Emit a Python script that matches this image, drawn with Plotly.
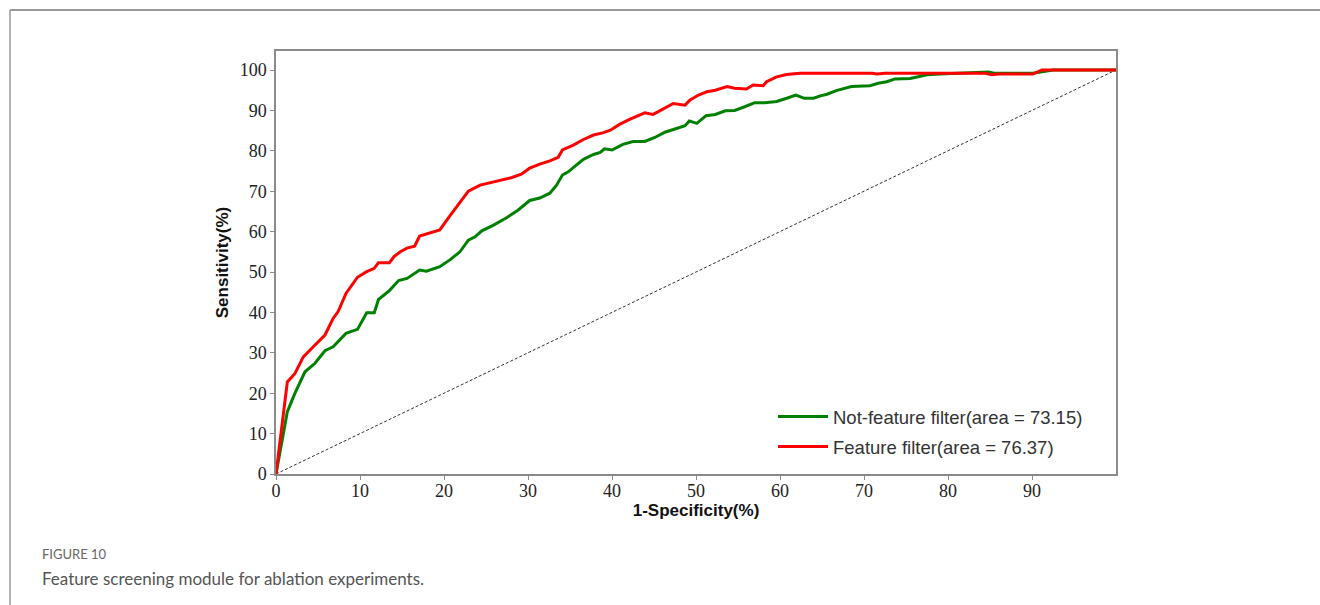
import plotly.graph_objects as go

# ---- data ----
nf_x = [0, 1.35, 2.26, 3.45, 4.64, 5.83, 6.8, 7.4, 8.33, 9.7, 10.8, 11.7, 12.2, 13.5, 14.6, 15.6,
        17.1, 17.9, 19.5, 20.7, 21.9, 22.9, 23.7, 24.5, 25.9, 27.5, 28.8, 30.2, 31.4, 32.6, 33.4,
        34.1, 34.8, 35.6, 36.6, 37.8, 38.6, 39.1, 40.0, 41.3, 42.5, 43.9, 45.1, 46.3, 47.5, 48.7,
        49.2, 50.1, 51.2, 52.3, 53.5, 54.6, 55.8, 57.0, 58.2, 59.6, 60.8, 61.9, 62.9, 64.0, 64.8,
        65.6, 66.7, 67.9, 68.5, 70.7, 71.7, 72.7, 73.7, 75.5, 76.3, 77.5, 79.0, 83.0, 84.8, 85.5,
        90.1, 92.5, 100]
nf_y = [0, 15.4, 20.0, 25.3, 27.4, 30.5, 31.5, 32.7, 34.8, 35.8, 39.9, 39.9, 43.2, 45.4, 47.9, 48.4,
        50.5, 50.2, 51.3, 53.0, 55.0, 57.9, 58.7, 60.2, 61.6, 63.5, 65.3, 67.7, 68.3, 69.5, 71.5,
        74.0, 74.8, 76.2, 77.9, 79.1, 79.6, 80.5, 80.2, 81.6, 82.3, 82.3, 83.3, 84.6, 85.4, 86.2,
        87.4, 86.8, 88.7, 89.0, 89.9, 90.0, 90.9, 91.9, 91.9, 92.2, 93.0, 93.8, 93.0, 93.0, 93.6,
        94.0, 94.9, 95.5, 95.9, 96.1, 96.7, 97.1, 97.8, 97.9, 98.3, 98.8, 99.0, 99.3, 99.5, 99.2,
        99.2, 100, 100]

ff_x = [0, 1.35, 2.26, 3.25, 4.44, 5.83, 6.8, 7.4, 8.33, 9.7, 10.8, 11.7, 12.2, 13.5, 14.05, 14.8,
        15.6, 16.5, 17.1, 17.9, 18.7, 19.5, 20.7, 22.9, 24.3, 25.5, 26.7, 28.1, 29.2, 30.2, 31.4,
        32.6, 33.6, 34.1, 35.4, 36.6, 37.8, 39.0, 39.8, 40.95, 42.1, 43.3, 43.9, 44.9, 45.9, 47.3,
        48.7, 49.3, 50.3, 51.3, 52.3, 53.7, 54.6, 56.0, 56.8, 58.0, 58.4, 59.6, 60.8, 62.4, 71.0,
        71.5, 72.5, 84.5, 85.2, 86.0, 90.1, 91.2, 100]
ff_y = [0, 22.8, 24.9, 29.0, 31.5, 34.4, 38.5, 40.2, 44.7, 48.7, 50.1, 50.9, 52.3, 52.3, 53.8, 55.0,
        55.9, 56.4, 58.9, 59.4, 59.8, 60.4, 63.9, 70.0, 71.5, 72.1, 72.6, 73.4, 74.2, 75.7, 76.7,
        77.5, 78.4, 80.2, 81.4, 82.8, 83.9, 84.5, 85.1, 86.6, 87.8, 88.9, 89.4, 89.0, 90.1, 91.7,
        91.3, 92.6, 93.8, 94.6, 95.0, 95.9, 95.5, 95.3, 96.3, 96.1, 97.1, 98.3, 98.9, 99.2, 99.2,
        99.0, 99.2, 99.2, 98.8, 99.0, 99.0, 100, 100]

chance_x = [0, 100]
chance_y = [0, 100]

series_names = ["Not-feature filter(area = 73.15)", "Feature filter(area = 76.37)"]
x_ticks = [0, 10, 20, 30, 40, 50, 60, 70, 80, 90]
y_ticks = [0, 10, 20, 30, 40, 50, 60, 70, 80, 90, 100]

# ---- layout geometry (pixels) ----
W, H = 1320, 605
L, R, T, B = 276, 1116, 51, 474
pw, ph = R - L, B - T


def px(xp):
    return (xp - L) / pw


def py(yp):
    return (B - yp) / ph


fig = go.Figure()
fig.add_trace(go.Scatter(x=chance_x, y=chance_y, mode="lines", showlegend=False,
                         line=dict(color="#333333", width=1, dash="3px,2px"), hoverinfo="skip"))
fig.add_trace(go.Scatter(x=nf_x, y=nf_y, mode="lines", name=series_names[0], legendgroup="a",
                         line=dict(color="#008000", width=3)))
fig.add_trace(go.Scatter(x=ff_x, y=ff_y, mode="lines", name=series_names[1], legendgroup="b",
                         line=dict(color="#FF0000", width=3)))

axis_common = dict(
    showline=True, linecolor="#8a8a8a", linewidth=1.5, mirror=True,
    showgrid=False, zeroline=False,
    ticks="outside", ticklen=4, tickwidth=1, tickcolor="#8a8a8a",
    tickfont=dict(family="Liberation Serif, Times New Roman, serif", size=18, color="#222222"),
)

fig.update_xaxes(range=[0, 100], tickvals=x_ticks, ticktext=[str(v) for v in x_ticks],
                 ticklabelstandoff=-4,
                 title=dict(text="<b>1-Specificity(%)</b>", standoff=0,
                            font=dict(family="Liberation Sans, Arial, sans-serif", size=17, color="#111111")),
                 **axis_common)
fig.update_yaxes(range=[0, (B - T) / 4.04], tickvals=y_ticks, ticktext=[str(v) for v in y_ticks],
                 title=dict(text="<b>Sensitivity(%)</b>", standoff=7,
                            font=dict(family="Liberation Sans, Arial, sans-serif", size=17, color="#111111")),
                 **axis_common)

fig.update_layout(
    width=W, height=H,
    margin=dict(l=L, r=W - R, t=T, b=H - B),
    paper_bgcolor="white", plot_bgcolor="white",
    legend=dict(x=px(773), y=py(398), xanchor="left", yanchor="top",
                bgcolor="rgba(255,255,255,0)", borderwidth=0,
                font=dict(family="Liberation Sans, Arial, sans-serif", size=18.5, color="#333333"),
                itemwidth=50, traceorder="grouped", tracegroupgap=3),
    shapes=[
        dict(type="line", xref="paper", yref="paper", x0=px(10), x1=px(1320), y0=py(10), y1=py(10),
             line=dict(color="#999999", width=2)),
        dict(type="line", xref="paper", yref="paper", x0=px(10), x1=px(10), y0=py(10), y1=py(605),
             line=dict(color="#999999", width=1.5)),
    ],
    annotations=[
        dict(text="FIGURE 10", xref="paper", yref="paper", x=px(40), y=py(554),
             xanchor="left", yanchor="middle", showarrow=False,
             font=dict(family="Lato, Open Sans, sans-serif", size=13, color="#666666")),
        dict(text="Feature screening module for ablation experiments.", xref="paper", yref="paper",
             x=px(40), y=py(578), xanchor="left", yanchor="middle", showarrow=False,
             font=dict(family="Lato, Open Sans, sans-serif", size=17, color="#555555")),
    ],
)

fig.write_html("out.html", config={"displayModeBar": False},
               post_script="document.body.style.margin='0';document.body.style.overflow='hidden';")
